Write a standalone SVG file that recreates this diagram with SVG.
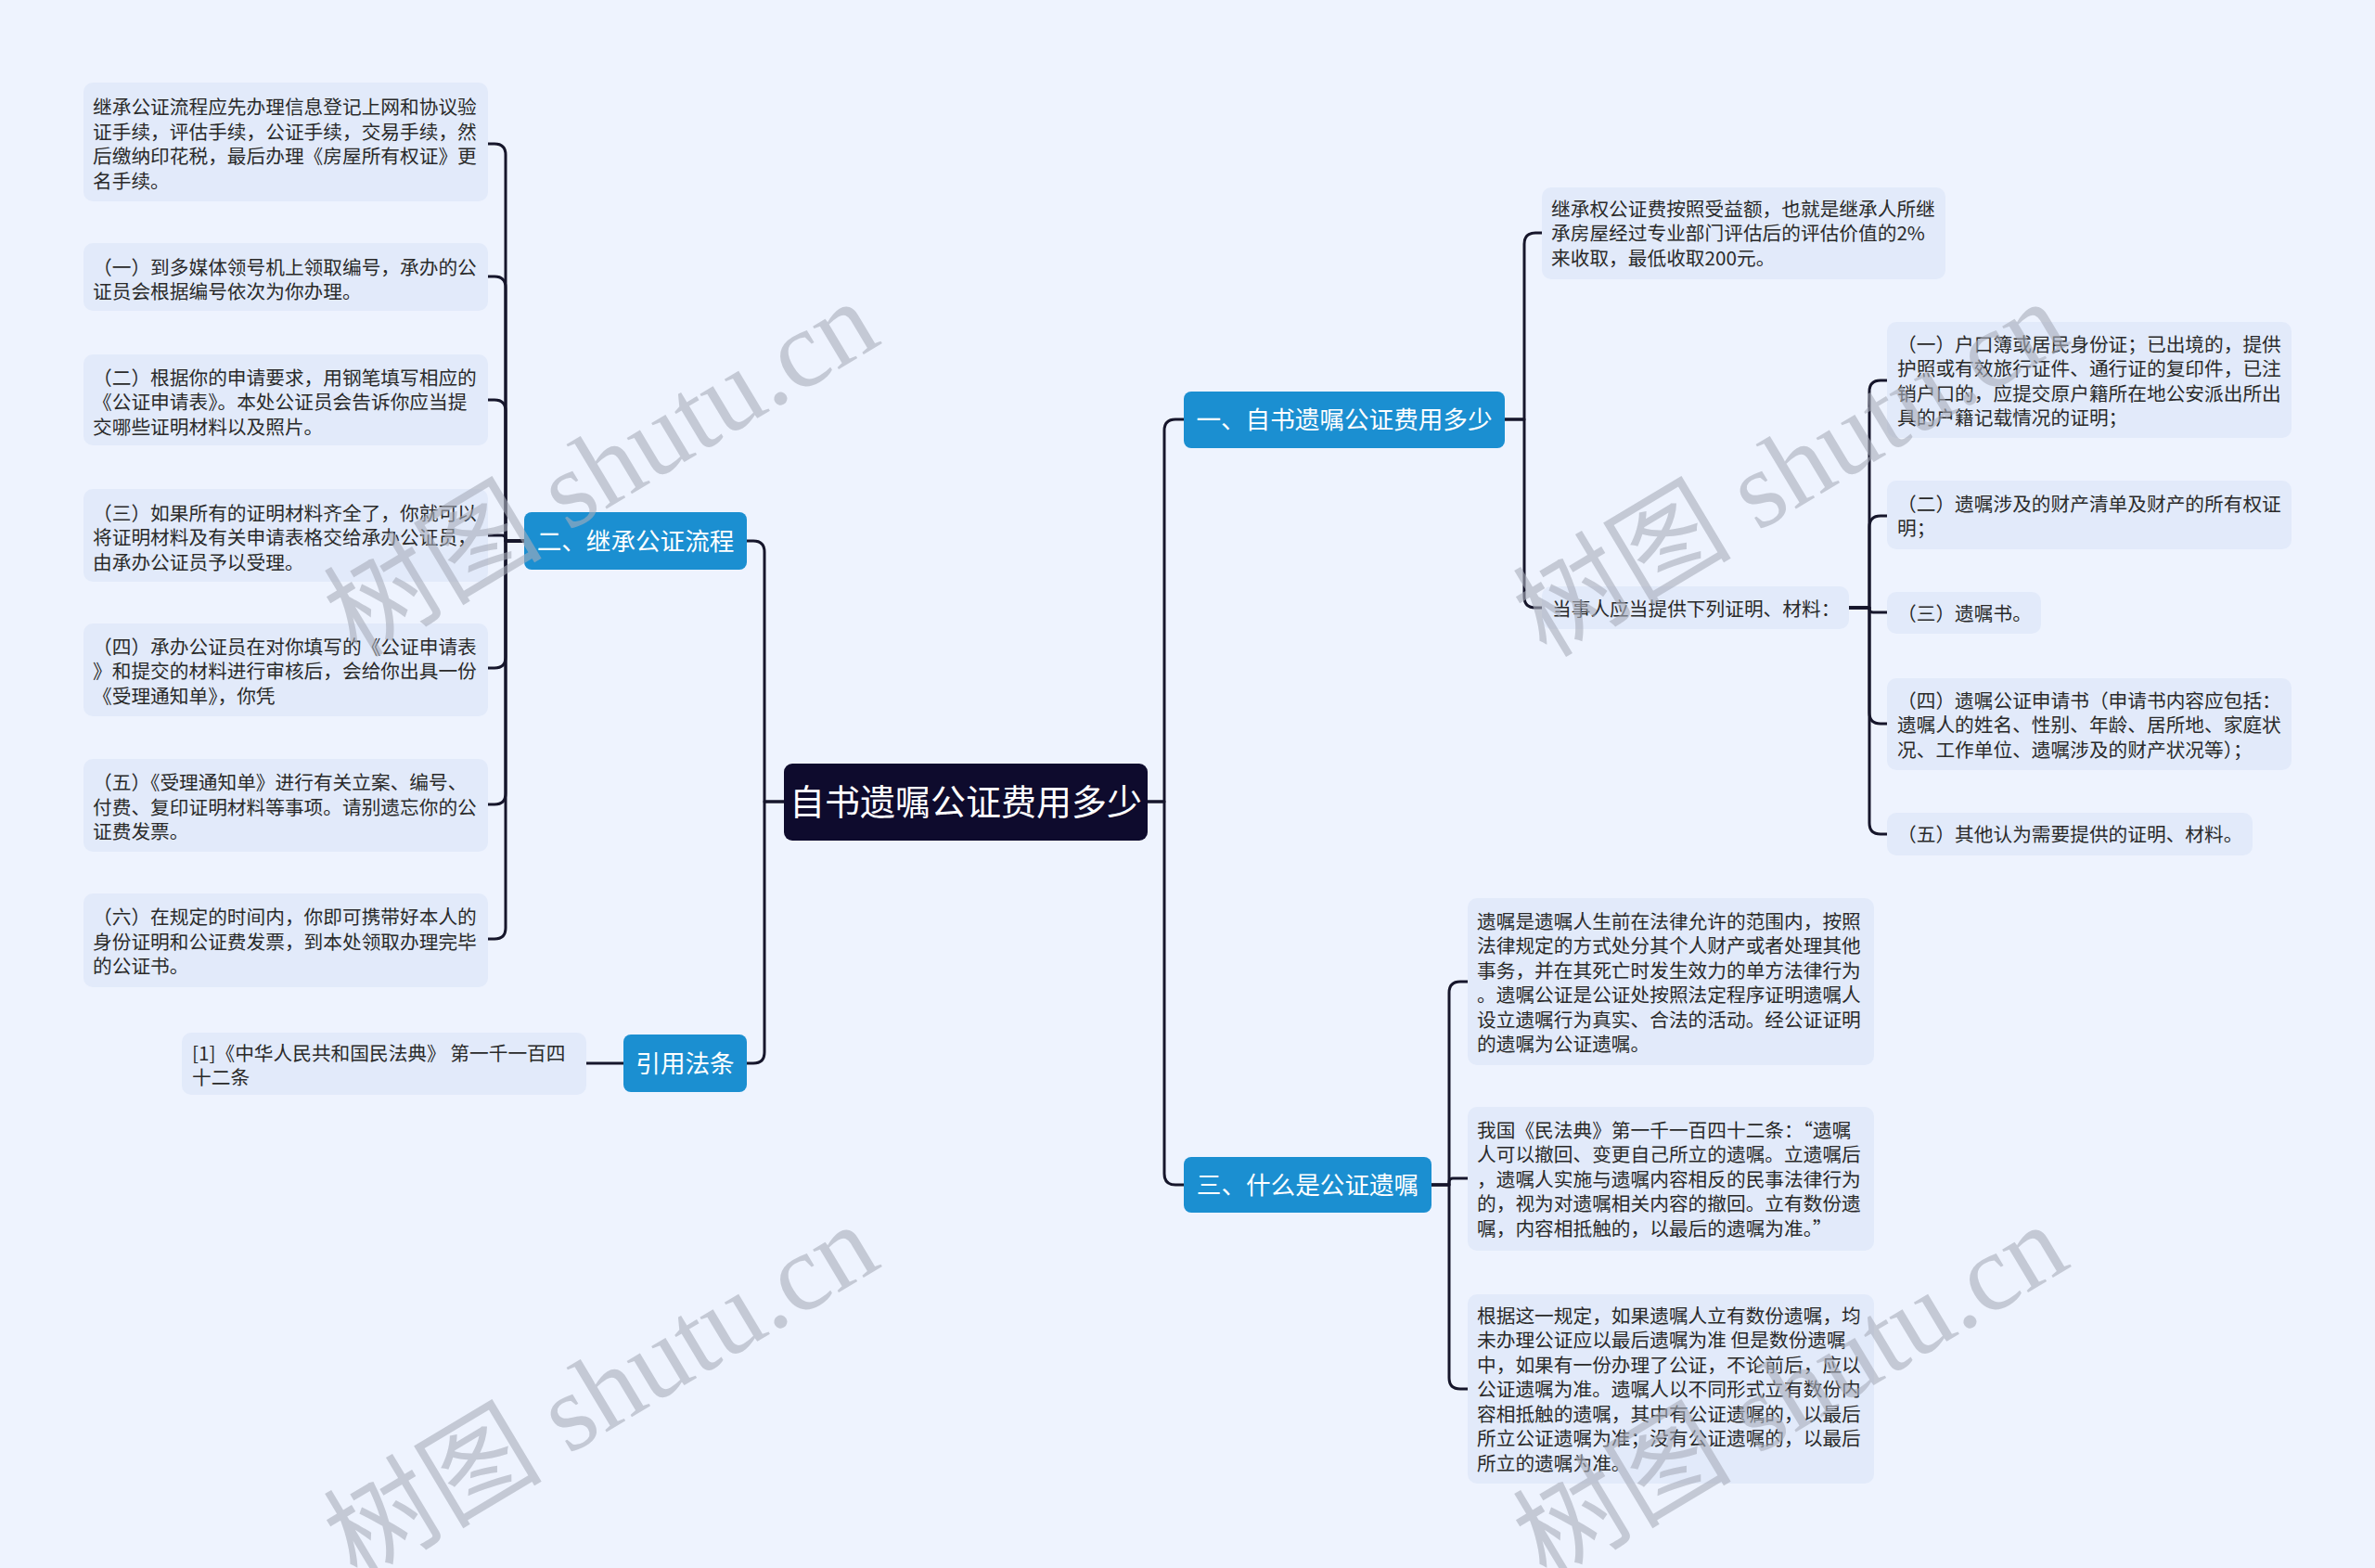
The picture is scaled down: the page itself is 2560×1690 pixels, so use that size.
<svg xmlns="http://www.w3.org/2000/svg" width="2560" height="1690" viewBox="0 0 2560 1690">
<style>
.leaf{fill:#e2eafa}
.br{fill:#1b8fd1}
.lt{font-family:"Noto Sans CJK SC","Noto Sans",sans-serif;font-size:20.7px;fill:#2a2a2a}
.bt{font-family:"Noto Sans CJK SC","Noto Sans",sans-serif;font-size:26.6px;fill:#ffffff;text-anchor:middle}
.ct{font-family:"Noto Sans CJK SC","Noto Sans",sans-serif;font-size:38px;fill:#ffffff;text-anchor:middle}
.wm{font-family:"Liberation Serif","Noto Sans CJK SC",serif;font-size:118px;fill:#a9aebb;opacity:0.6;text-anchor:middle}
#connectors path{fill:none;stroke:#16162b;stroke-width:3;stroke-linecap:round;stroke-linejoin:round}
</style>
<rect x="0" y="0" width="2560" height="1690" fill="#eef3fe"/>

<g id="connectors">
<!-- central to left branches -->
<path d="M845 864 H824 V595 Q824 583 812 583 H805"/>
<path d="M845 864 H824 V1134 Q824 1146 812 1146 H805"/>
<!-- central to right branches -->
<path d="M1237 864 H1255 V464 Q1255 452 1267 452 H1276"/>
<path d="M1237 864 H1255 V1265 Q1255 1277 1267 1277 H1276"/>
<!-- branch 2 to leaves -->
<path d="M565 583 H545 V167 Q545 155 533 155 H526"/>
<path d="M565 583 H545 V310 Q545 298 533 298 H526"/>
<path d="M565 583 H545 V443 Q545 431 533 431 H526"/>
<path d="M565 583 H545 V581 Q545 577 541 577 H526"/>
<path d="M565 583 H545 V708 Q545 720 533 720 H526"/>
<path d="M565 583 H545 V855 Q545 867 533 867 H526"/>
<path d="M565 583 H545 V1000 Q545 1012 533 1012 H526"/>
<!-- reference -->
<path d="M672 1146 H632"/>
<!-- branch 1 -->
<path d="M1622 452 H1643 V263 Q1643 251 1655 251 H1662"/>
<path d="M1622 452 H1643 V643 Q1643 655 1655 655 H1662"/>
<!-- B children -->
<path d="M1993 655 H2015 V422 Q2015 410 2027 410 H2034"/>
<path d="M1993 655 H2015 V568 Q2015 556 2027 556 H2034"/>
<path d="M1993 655 H2015 V656 Q2015 660 2019 660 H2034"/>
<path d="M1993 655 H2015 V768 Q2015 780 2027 780 H2034"/>
<path d="M1993 655 H2015 V887 Q2015 899 2027 899 H2034"/>
<!-- branch 3 -->
<path d="M1543 1277 H1562 V1070 Q1562 1058 1574 1058 H1582"/>
<path d="M1543 1277 H1562 V1274 Q1562 1270 1566 1270 H1582"/>
<path d="M1543 1277 H1562 V1485 Q1562 1497 1574 1497 H1582"/>
</g>

<g id="central">
<rect x="845" y="823" width="392" height="83" rx="9" fill="#0e0b2d"/>
<text class="ct" x="1041" y="878">自书遗嘱公证费用多少</text>
</g>

<g id="branch1">
<rect class="br" x="1276" y="422" width="346" height="61" rx="8"/>
<text class="bt" x="1449" y="462">一、自书遗嘱公证费用多少</text>
</g>
<g id="branch2">
<rect class="br" x="565" y="552" width="240" height="62" rx="8"/>
<text class="bt" x="685" y="593">二、继承公证流程</text>
</g>
<g id="branch3">
<rect class="br" x="1276" y="1247" width="267" height="60" rx="8"/>
<text class="bt" x="1409.5" y="1287">三、什么是公证遗嘱</text>
</g>
<g id="branch-ref">
<rect class="br" x="672" y="1115" width="133" height="62" rx="8"/>
<text class="bt" x="738.5" y="1156">引用法条</text>
</g>

<g id="leaf-l1">
<rect class="leaf" x="90" y="89" width="436" height="128" rx="10"/>
<text class="lt"><tspan x="100" y="123">继承公证流程应先办理信息登记上网和协议验</tspan><tspan x="100" y="150">证手续，评估手续，公证手续，交易手续，然</tspan><tspan x="100" y="176">后缴纳印花税，最后办理《房屋所有权证》更</tspan><tspan x="100" y="203">名手续。</tspan></text>
</g>
<g id="leaf-l2">
<rect class="leaf" x="90" y="262" width="436" height="73" rx="10"/>
<text class="lt"><tspan x="100" y="295.5">（一）到多媒体领号机上领取编号，承办的公</tspan><tspan x="100" y="322">证员会根据编号依次为你办理。</tspan></text>
</g>
<g id="leaf-l3">
<rect class="leaf" x="90" y="382" width="436" height="98" rx="10"/>
<text class="lt"><tspan x="100" y="414.5">（二）根据你的申请要求，用钢笔填写相应的</tspan><tspan x="100" y="441">《公证申请表》。本处公证员会告诉你应当提</tspan><tspan x="100" y="467.5">交哪些证明材料以及照片。</tspan></text>
</g>
<g id="leaf-l4">
<rect class="leaf" x="90" y="527" width="436" height="100" rx="10"/>
<text class="lt"><tspan x="100" y="560.5">（三）如果所有的证明材料齐全了，你就可以</tspan><tspan x="100" y="587">将证明材料及有关申请表格交给承办公证员，</tspan><tspan x="100" y="613.5">由承办公证员予以受理。</tspan></text>
</g>
<g id="leaf-l5">
<rect class="leaf" x="90" y="672" width="436" height="100" rx="10"/>
<text class="lt"><tspan x="100" y="704.5">（四）承办公证员在对你填写的《公证申请表</tspan><tspan x="100" y="731">》和提交的材料进行审核后，会给你出具一份</tspan><tspan x="100" y="757.5">《受理通知单》，你凭</tspan></text>
</g>
<g id="leaf-l6">
<rect class="leaf" x="90" y="818" width="436" height="100" rx="10"/>
<text class="lt"><tspan x="100" y="851">（五）《受理通知单》进行有关立案、编号、</tspan><tspan x="100" y="877.5">付费、复印证明材料等事项。请别遗忘你的公</tspan><tspan x="100" y="904">证费发票。</tspan></text>
</g>
<g id="leaf-l7">
<rect class="leaf" x="90" y="963" width="436" height="101" rx="10"/>
<text class="lt"><tspan x="100" y="996">（六）在规定的时间内，你即可携带好本人的</tspan><tspan x="100" y="1022.5">身份证明和公证费发票，到本处领取办理完毕</tspan><tspan x="100" y="1049">的公证书。</tspan></text>
</g>
<g id="leaf-ref">
<rect class="leaf" x="196" y="1113" width="436" height="67" rx="10"/>
<text class="lt"><tspan x="207" y="1142.5">[1]《中华人民共和国民法典》 第一千一百四</tspan><tspan x="207" y="1169">十二条</tspan></text>
</g>

<g id="leaf-a">
<rect class="leaf" x="1662" y="202" width="435" height="99" rx="10"/>
<text class="lt"><tspan x="1672" y="232.5">继承权公证费按照受益额，也就是继承人所继</tspan><tspan x="1672" y="259">承房屋经过专业部门评估后的评估价值的2%</tspan><tspan x="1672" y="285.5">来收取，最低收取200元。</tspan></text>
</g>
<g id="leaf-b">
<rect class="leaf" x="1662" y="632" width="331" height="46" rx="10"/>
<text class="lt" x="1673" y="663.5">当事人应当提供下列证明、材料：</text>
</g>
<g id="leaf-c1">
<rect class="leaf" x="2034" y="347" width="436" height="125" rx="10"/>
<text class="lt"><tspan x="2045" y="378.5">（一）户口簿或居民身份证；已出境的，提供</tspan><tspan x="2045" y="405">护照或有效旅行证件、通行证的复印件，已注</tspan><tspan x="2045" y="431.5">销户口的，应提交原户籍所在地公安派出所出</tspan><tspan x="2045" y="458">具的户籍记载情况的证明；</tspan></text>
</g>
<g id="leaf-c2">
<rect class="leaf" x="2034" y="518" width="436" height="74" rx="10"/>
<text class="lt"><tspan x="2045" y="550.5">（二）遗嘱涉及的财产清单及财产的所有权证</tspan><tspan x="2045" y="577">明；</tspan></text>
</g>
<g id="leaf-c3">
<rect class="leaf" x="2034" y="638" width="166" height="45" rx="10"/>
<text class="lt" x="2045" y="668.5">（三）遗嘱书。</text>
</g>
<g id="leaf-c4">
<rect class="leaf" x="2034" y="731" width="436" height="99" rx="10"/>
<text class="lt"><tspan x="2045" y="762.5">（四）遗嘱公证申请书（申请书内容应包括：</tspan><tspan x="2045" y="789">遗嘱人的姓名、性别、年龄、居所地、家庭状</tspan><tspan x="2045" y="815.5">况、工作单位、遗嘱涉及的财产状况等）；</tspan></text>
</g>
<g id="leaf-c5">
<rect class="leaf" x="2034" y="876" width="394" height="46" rx="10"/>
<text class="lt" x="2045" y="906.5">（五）其他认为需要提供的证明、材料。</text>
</g>

<g id="leaf-d1">
<rect class="leaf" x="1582" y="968" width="438" height="180" rx="10"/>
<text class="lt"><tspan x="1592" y="1000.5">遗嘱是遗嘱人生前在法律允许的范围内，按照</tspan><tspan x="1592" y="1027">法律规定的方式处分其个人财产或者处理其他</tspan><tspan x="1592" y="1053.5">事务，并在其死亡时发生效力的单方法律行为</tspan><tspan x="1592" y="1080">。遗嘱公证是公证处按照法定程序证明遗嘱人</tspan><tspan x="1592" y="1106.5">设立遗嘱行为真实、合法的活动。经公证证明</tspan><tspan x="1592" y="1133">的遗嘱为公证遗嘱。</tspan></text>
</g>
<g id="leaf-d2">
<rect class="leaf" x="1582" y="1193" width="438" height="155" rx="10"/>
<text class="lt"><tspan x="1592" y="1225.5">我国《民法典》第一千一百四十二条：“遗嘱</tspan><tspan x="1592" y="1252">人可以撤回、变更自己所立的遗嘱。立遗嘱后</tspan><tspan x="1592" y="1278.5">，遗嘱人实施与遗嘱内容相反的民事法律行为</tspan><tspan x="1592" y="1305">的，视为对遗嘱相关内容的撤回。立有数份遗</tspan><tspan x="1592" y="1331.5">嘱，内容相抵触的，以最后的遗嘱为准。”</tspan></text>
</g>
<g id="leaf-d3">
<rect class="leaf" x="1582" y="1395" width="438" height="204" rx="10"/>
<text class="lt"><tspan x="1592" y="1425.5">根据这一规定，如果遗嘱人立有数份遗嘱，均</tspan><tspan x="1592" y="1452">未办理公证应以最后遗嘱为准 但是数份遗嘱</tspan><tspan x="1592" y="1478.5">中，如果有一份办理了公证，不论前后，应以</tspan><tspan x="1592" y="1505">公证遗嘱为准。遗嘱人以不同形式立有数份内</tspan><tspan x="1592" y="1531.5">容相抵触的遗嘱，其中有公证遗嘱的，以最后</tspan><tspan x="1592" y="1558">所立公证遗嘱为准；没有公证遗嘱的，以最后</tspan><tspan x="1592" y="1584.5">所立的遗嘱为准。</tspan></text>
</g>

<g id="watermarks">
<text class="wm" x="649" y="545" transform="rotate(-31 649 507)">树图 shutu.cn</text>
<text class="wm" x="1931" y="545" transform="rotate(-31 1931 507)">树图 shutu.cn</text>
<text class="wm" x="649" y="1540" transform="rotate(-31 649 1502)">树图 shutu.cn</text>
<text class="wm" x="1931" y="1540" transform="rotate(-31 1931 1502)">树图 shutu.cn</text>
</g>
</svg>
